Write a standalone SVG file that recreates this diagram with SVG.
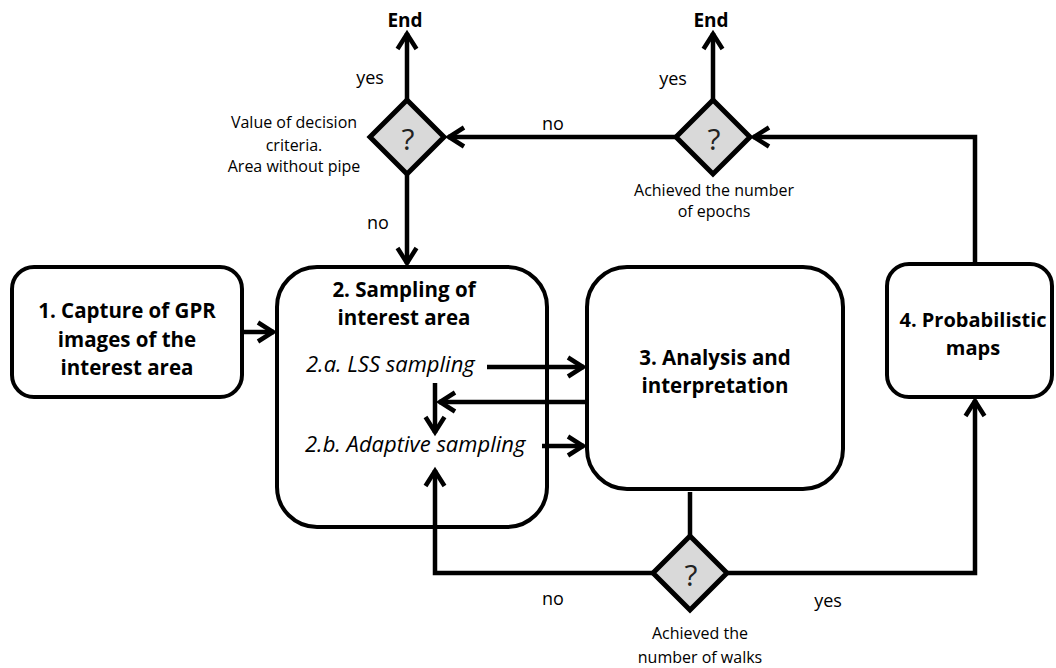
<svg xmlns="http://www.w3.org/2000/svg" width="1056" height="668" viewBox="0 0 1056 668">
  <style>
    .box { fill: #fff; stroke: #000; stroke-width: 4; }
    .dia { fill: #d9d9d9; stroke: #000; stroke-width: 5; stroke-linejoin: miter; }
    .wire { fill: none; stroke: #000; stroke-width: 4.5; stroke-linejoin: miter; }
    .arr { marker-end: url(#ah); }
    text { font-family: "Open Sans", "Liberation Sans", sans-serif; fill: #000; }
    .title { font-size: 20.5px; font-weight: bold; text-anchor: middle; }
    .step { font-size: 22px; font-style: italic; }
    .lbl { font-size: 18px; text-anchor: middle; }
    .end { font-size: 19px; font-weight: bold; text-anchor: middle; }
    .note { font-size: 16px; text-anchor: middle; }
    .q { font-size: 30px; text-anchor: middle; fill: #222; }
  </style>
  <defs>
    <marker id="ah" markerUnits="userSpaceOnUse" orient="auto" refX="0" refY="0" markerWidth="30" markerHeight="30" viewBox="-20 -15 30 30" overflow="visible">
      <path d="M-16,-9.5 L-1,0 L-16,9.5" fill="none" stroke="#000" stroke-width="4.5" stroke-linejoin="miter"/>
    </marker>
  </defs>

  <!-- process boxes -->
  <g id="capture">
    <rect class="box" x="12" y="267" width="230" height="130" rx="22"/>
    <text class="title" x="127" y="318">1. Capture of GPR</text>
    <text class="title" x="127" y="347">images of the</text>
    <text class="title" x="127" y="375">interest area</text>
  </g>

  <g id="sampling">
    <rect class="box" x="277" y="267" width="270" height="260" rx="40"/>
    <text class="title" x="404" y="297">2. Sampling of</text>
    <text class="title" x="404" y="325">interest area</text>
    <text class="step" x="306" y="372">2.a. LSS sampling</text>
    <text class="step" x="305" y="452">2.b. Adaptive sampling</text>
  </g>

  <g id="analysis">
    <rect class="box" x="587" y="267" width="256" height="222" rx="40"/>
    <text class="title" x="715" y="365">3. Analysis and</text>
    <text class="title" x="715" y="393">interpretation</text>
  </g>

  <g id="maps">
    <rect class="box" x="887" y="264" width="165" height="133" rx="22"/>
    <text class="title" x="973" y="327" style="font-size:20px">4. Probabilistic</text>
    <text class="title" x="973" y="355" style="font-size:20px">maps</text>
  </g>

  <!-- connectors, drawn over the boxes so the inner links stay visible -->
  <g id="connectors">
    <path class="wire arr" d="M407,100 V33"/>
    <path class="wire arr" d="M407,175 V264"/>
    <path class="wire arr" d="M713,100 V33"/>
    <path class="wire arr" d="M675,137 H448"/>
    <path class="wire arr" d="M975,264 V137 H753"/>
    <path class="wire arr" d="M242,332 H274"/>
    <path class="wire arr" d="M487,367 H584"/>
    <path class="wire arr" d="M587,402 H439"/>
    <path class="wire arr" d="M435,383 V433"/>
    <path class="wire arr" d="M542,446 H584"/>
    <path class="wire" d="M690,492 V535"/>
    <path class="wire arr" d="M653,573 H435 V470"/>
    <path class="wire arr" d="M728,573 H975 V400"/>
  </g>

  <!-- decisions -->
  <g id="decision-area">
    <path class="dia" d="M407,100 L444,137 L407,174 L370,137 Z"/>
    <text class="q" x="408" y="150">?</text>
    <text class="note" x="294" y="128">Value of decision</text>
    <text class="note" x="294" y="151">criteria.</text>
    <text class="note" x="294" y="172">Area without pipe</text>
    <text class="lbl" x="370" y="84">yes</text>
    <text class="lbl" x="378" y="229">no</text>
    <text class="end" x="405" y="27">End</text>
  </g>

  <g id="decision-epochs">
    <path class="dia" d="M713,100 L750,137 L713,174 L676,137 Z"/>
    <text class="q" x="714" y="150">?</text>
    <text class="note" x="714" y="196">Achieved the number</text>
    <text class="note" x="714" y="217">of epochs</text>
    <text class="lbl" x="673" y="85">yes</text>
    <text class="lbl" x="553" y="130">no</text>
    <text class="end" x="711" y="27">End</text>
  </g>

  <g id="decision-walks">
    <path class="dia" d="M690,536 L727,573 L690,610 L653,573 Z"/>
    <text class="q" x="691" y="586">?</text>
    <text class="note" x="700" y="639">Achieved the</text>
    <text class="note" x="700" y="663">number of walks</text>
    <text class="lbl" x="553" y="605">no</text>
    <text class="lbl" x="828" y="607">yes</text>
  </g>
</svg>
